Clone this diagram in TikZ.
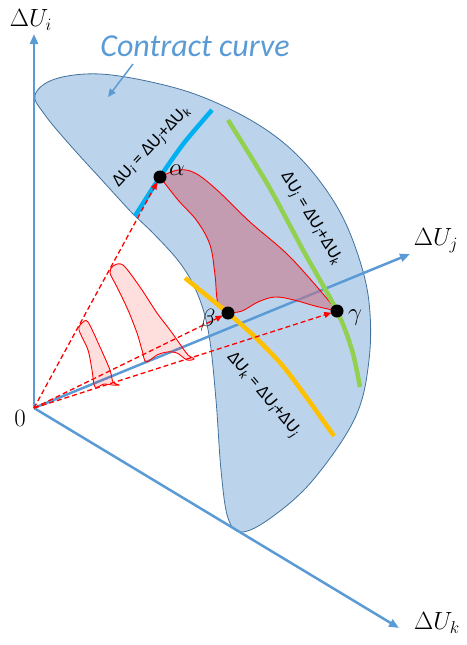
\documentclass[tikz,border=0pt]{standalone}
\usepackage{fontspec}
\newfontfamily\calib{Carlito}
\usetikzlibrary{arrows.meta}
\definecolor{axisblue}{RGB}{91,155,213}
\definecolor{regionfill}{RGB}{187,212,236}
\definecolor{regionedge}{RGB}{65,113,156}
\definecolor{linecyan}{RGB}{0,176,240}
\definecolor{linegreen}{RGB}{146,208,80}
\definecolor{lineorange}{RGB}{255,192,0}
\definecolor{paretofill}{RGB}{205,110,130}

\begin{document}
\begin{tikzpicture}[x=1pt,y=-1pt,
  axis/.style={axisblue, line width=2.5pt, -{Triangle[length=10pt,width=8pt]}},
  ray/.style={red, line width=1.3pt, dash pattern=on 5pt off 3pt, -{Triangle[length=7pt,width=6pt]}, shorten >=6pt},
  slice/.style={red, line width=0.9pt, fill=red, fill opacity=0.13},
  pointdot/.style={circle, fill=black, inner sep=0pt, minimum size=13pt},
  eqlabel/.style={font=\calib\fontsize{18}{18}\selectfont, inner sep=0pt},
  axlabel/.style={font=\fontsize{25}{25}\selectfont, inner sep=0pt}]
\useasboundingbox (0,0) rectangle (466,645);
\coordinate (orig) at (34,408);
\coordinate (iend) at (34,34);
\coordinate (jend) at (410,254);
\coordinate (kend) at (399,628);
\coordinate (alpha) at (160,177);
\coordinate (beta) at (228,313);
\coordinate (gamma) at (337,311);

\draw[regionedge, fill=regionfill, line width=0.8pt] plot[smooth cycle, tension=0.6] coordinates {
  (35,95) (55,79) (100,74) (160,84) (210,100) (262,127) (302,160) (336,205) (357,252) (369,302) (369,360)
  (355,418) (313,480) (272,517) (242,532) (228,518) (221,470) (216,400) (209,335) (198,295)
  (180,263) (150,230) (133,214) (100,178) (70,145) (45,115)};

\draw[axis] (orig) -- (iend);
\draw[axis] (orig) -- (jend);
\draw[axis] (orig) -- (kend);
\node[axlabel] (labi) at (31,20) {$\Delta U_i$};
\node[axlabel] (labj) at (436,241) {$\Delta U_j$};
\node[axlabel] (labk) at (437,623) {$\Delta U_k$};
\node[axlabel] (labo) at (20,418) {$0$};

\draw[red, line width=0.9pt, fill=paretofill, fill opacity=0.55]
  plot[smooth, tension=0.6] coordinates {(alpha) (178,170) (195,173) (217,190) (250,222) (287,254) (318,288) (gamma)}
  -- plot[smooth, tension=0.6] coordinates {(gamma) (315,306) (294,300) (275,297) (258,302) (242,311) (beta)}
  -- plot[smooth, tension=0.6] coordinates {(beta) (218,303) (215,275) (210,245) (197,221) (178,200) (alpha)} -- cycle;

\draw[linecyan, line width=4.5pt] plot[smooth] coordinates {(135,216) (alpha) (184,143) (212,110)};
\draw[linegreen, line width=4.5pt] plot[smooth] coordinates {(228,120) (268,185) (303,250) (gamma) (352,350) (360,387)};
\draw[lineorange, line width=4.5pt] plot[smooth] coordinates {(185,278) (beta) (255,337) (282,365) (307,398) (334,436)};

\node[eqlabel, rotate=47] (eqi) at (152,147) {ΔU\textsubscript{\textit{i}} = ΔU\textsubscript{\textit{j}}+ΔU\textsubscript{\textit{k}}};
\node[eqlabel, rotate=-59] (eqj) at (311,219) {ΔU\textsubscript{\textit{j}} = ΔU\textsubscript{\textit{i}}+ΔU\textsubscript{\textit{k}}};
\node[eqlabel, rotate=-50] (eqk) at (263,395) {ΔU\textsubscript{\textit{k}} = ΔU\textsubscript{\textit{i}}+ΔU\textsubscript{\textit{j}}};

\draw[slice] plot[smooth cycle, tension=0.5] coordinates {
  (82,323) (88,322) (100,347) (110,370) (113,382) (119,385) (112,385) (104,384) (95,387) (92,370) (88,350) (79,330)};
\draw[slice] plot[smooth cycle, tension=0.5] coordinates {
  (113,266) (123,265) (140,287) (157,313) (170,330) (182,347) (188,355) (194,359) (187,360)
  (177,353) (167,352) (157,355) (146,362) (142,350) (137,333) (128,310) (117,287) (110,273)};

\draw[ray] (orig) -- (alpha);
\draw[ray] (orig) -- (beta);
\draw[ray] (orig) -- (gamma);

\node[pointdot] (dalpha) at (alpha) {};
\node[pointdot] (dbeta) at (beta) {};
\node[pointdot] (dgamma) at (gamma) {};
\node[axlabel] (labalpha) at (177,170) {$\alpha$};
\node[axlabel] (labbeta) at (208,320) {$\beta$};
\node[axlabel] (labgamma) at (355,318) {$\gamma$};

\node[text=axisblue, font=\calib\itshape\fontsize{32}{32}\selectfont, inner sep=0pt] (cc) at (195,46) {Contract curve};
\coordinate (ccfrom) at (133,64);
\coordinate (ccto) at (108,97);
\draw[axisblue, line width=1.5pt, -{Triangle[length=8pt,width=7pt]}] (ccfrom) -- (ccto);
\end{tikzpicture}
\end{document}
